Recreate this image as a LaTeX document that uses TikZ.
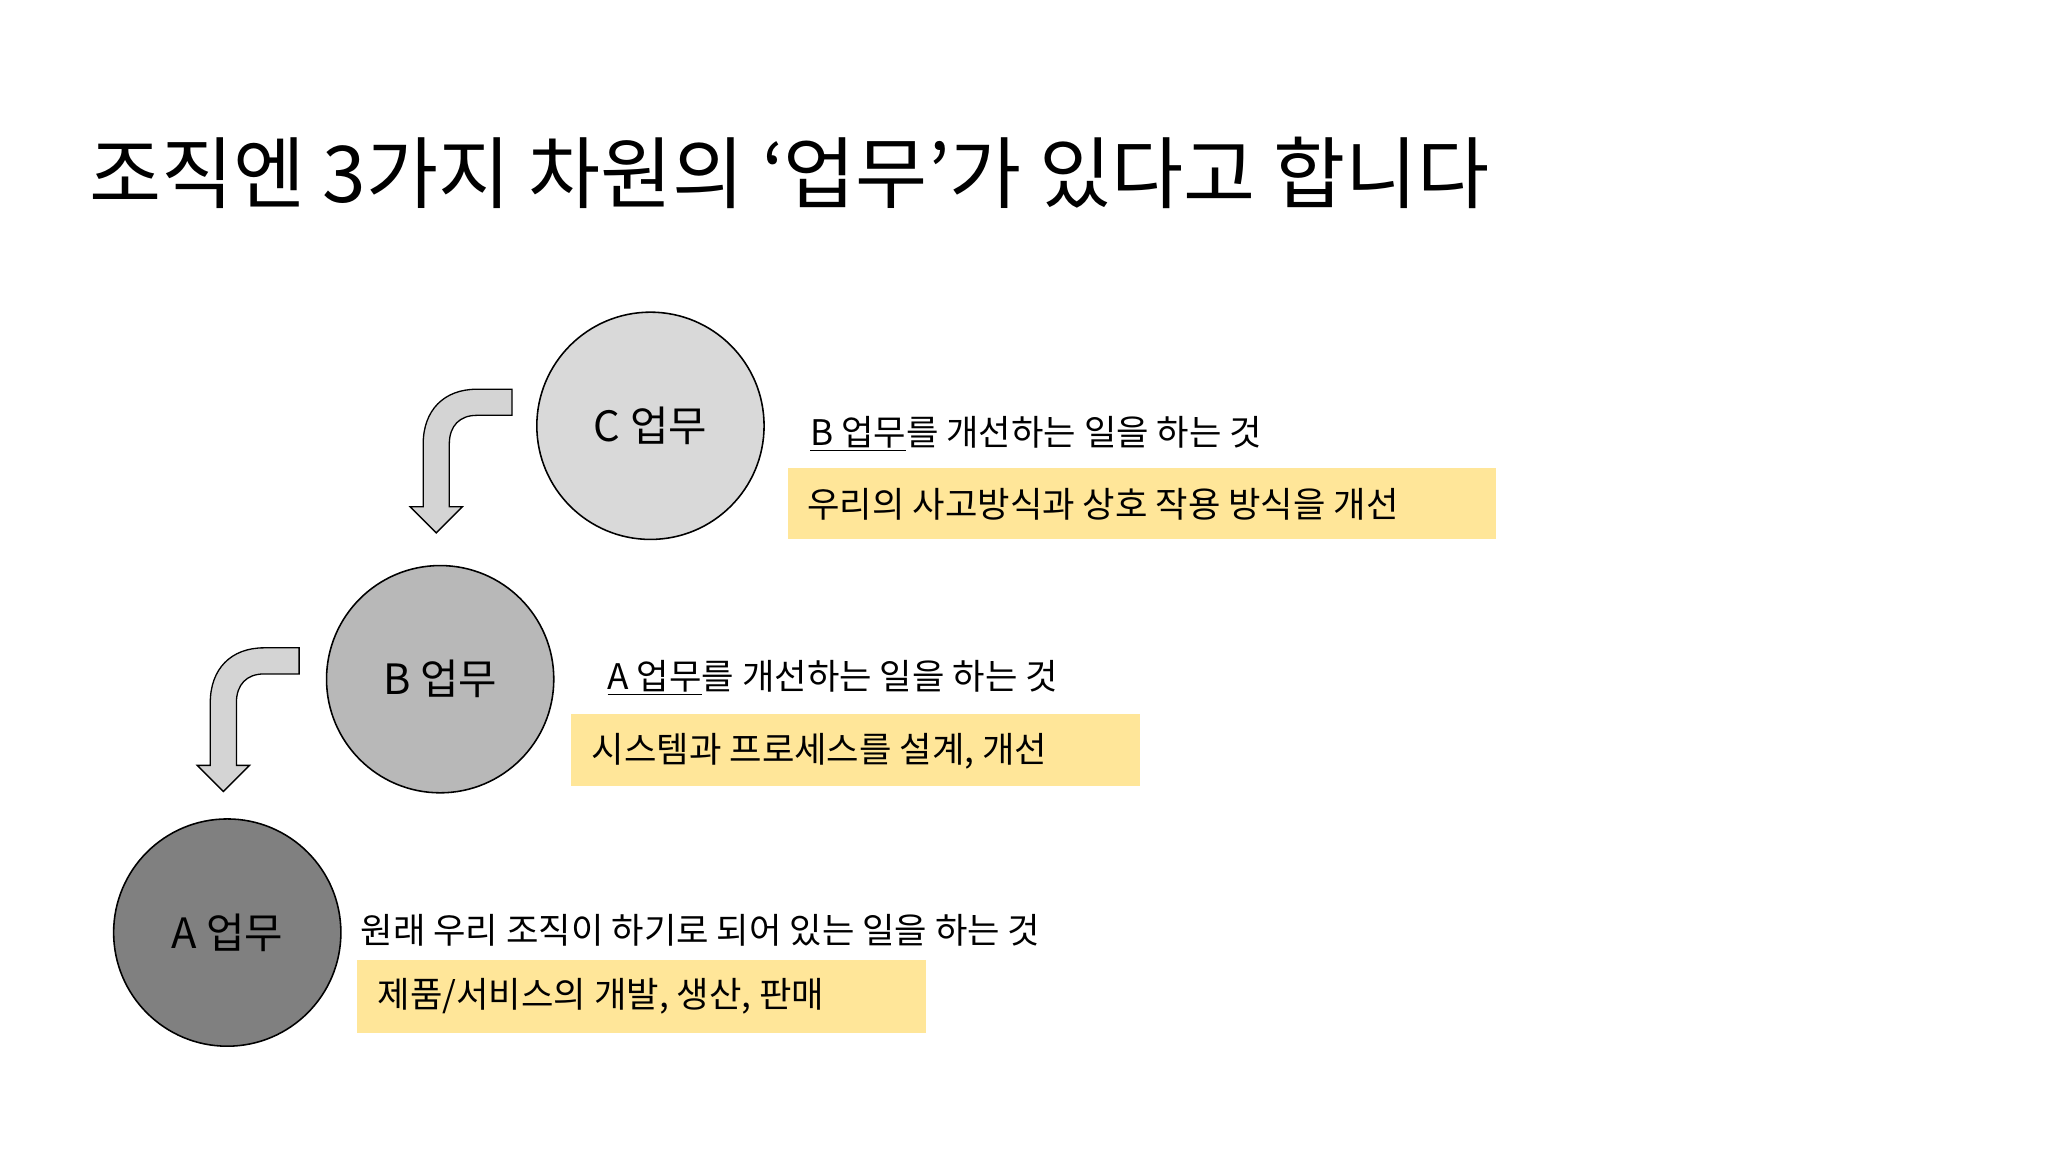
\documentclass[tikz,border=0pt]{standalone}
\usepackage{fontspec}
\setmainfont{Noto Sans CJK KR}
\begin{document}
\begin{tikzpicture}[x=1pt,y=-1pt,
  circ/.style={circle,draw=black,line width=1.2pt,minimum size=174pt,inner sep=0pt,font=\fontsize{32}{36}\selectfont},
  ybox/.style={fill=yellowbox,draw=none},
  lbl/.style={anchor=west,inner sep=0pt,font=\fontsize{27}{30}\selectfont},
  barrow/.style={fill=arrowgray,draw=black,line width=1pt,line join=miter}]
\definecolor{yellowbox}{HTML}{FFE699}
\definecolor{arrowgray}{HTML}{D4D4D4}
\useasboundingbox (0,0) rectangle (1568,882);
\fill[white] (0,0) rectangle (1568,882);
\node[anchor=west,inner sep=0pt,font=\fontsize{60}{66}\selectfont] (title) at (68,132) {조직엔 3가지 차원의 ‘업무’가 있다고 합니다};
\node[circ,fill=black!15] (C) at (498,326) {C 업무};
\node[circ,fill=black!28] (B) at (337,520) {B 업무};
\node[circ,fill=black!50] (A) at (174,714) {A 업무};
% bent arrows
\draw[barrow] (392,298) -- (365,298) .. controls (340,298) and (324,314) .. (324,340) -- (324,388) -- (314,388) -- (334,408) -- (354,388) -- (344,388) -- (344,340) .. controls (344,326) and (352,318) .. (365,318) -- (392,318) -- cycle;
\draw[barrow,shift={(-163,198)}] (392,298) -- (365,298) .. controls (340,298) and (324,314) .. (324,340) -- (324,388) -- (314,388) -- (334,408) -- (354,388) -- (344,388) -- (344,340) .. controls (344,326) and (352,318) .. (365,318) -- (392,318) -- cycle;
% C texts
\node[lbl] (ct) at (620,332) {\underline{B 업무}를 개선하는 일을 하는 것};
\fill[ybox] (603,358) rectangle (1145,413);
\node[lbl] (cb) at (618,386) {우리의 사고방식과 상호 작용 방식을 개선};
% B texts
\node[lbl] (bt) at (465,519) {\underline{A 업무}를 개선하는 일을 하는 것};
\fill[ybox] (437,547) rectangle (873,602);
\node[lbl] (bb) at (453,575) {시스템과 프로세스를 설계, 개선};
% A texts
\node[lbl] (at) at (276,712) {원래 우리 조직이 하기로 되어 있는 일을 하는 것};
\fill[ybox] (273,735) rectangle (709,791);
\node[lbl] (ab) at (289,763) {제품/서비스의 개발, 생산, 판매};
\end{tikzpicture}
\end{document}
